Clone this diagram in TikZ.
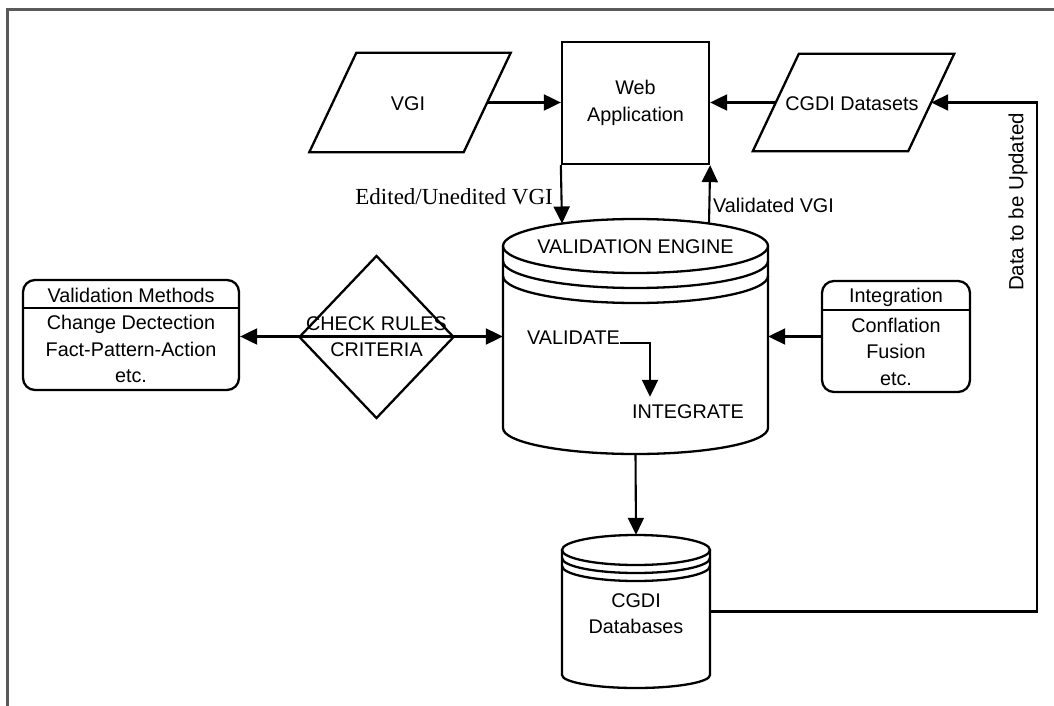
\documentclass[tikz,border=0pt]{standalone}
\usepackage{fontspec}
\setmainfont{Liberation Sans}
\newfontfamily\seriffont{Liberation Serif}
\usetikzlibrary{arrows.meta,shapes.geometric,calc}
\definecolor{framegray}{RGB}{90,90,90}
\begin{document}
\begin{tikzpicture}[x=1pt,y=-1pt,
  every node/.style={font=\fontsize{19.8}{26.5}\selectfont, inner sep=0pt},
  >={Triangle[length=17pt,width=16pt]},
  outline/.style={draw=black, line width=2.3pt, fill=white, line join=miter},
  conn/.style={line width=2.1pt},
  thin rule/.style={line width=1.9pt},
  panel/.style={outline, rounded corners=12pt},
  label/.style={align=center}]

\useasboundingbox (0,0) rectangle (1054,706);

% page frame (top and left edges)
\draw[line width=3pt, framegray] (1054,10) -- (7.5,10) -- (7.5,706);

% ---- input / output parallelograms and web application ----
\node[minimum width=154, minimum height=99] (vgi) at (410,102.5) {};
\draw[outline] ($(vgi.north east)+(23.5,0)$) -- ($(vgi.north west)+(23.5,0)$)
  -- ($(vgi.south west)+(-23.5,0)$) -- ($(vgi.south east)+(-23.5,0)$) -- cycle;
\node at (408,104) {VGI};

\node[minimum width=155, minimum height=97] (cgdi) at (853.5,102.5) {};
\draw[outline] ($(cgdi.north east)+(23,0)$) -- ($(cgdi.north west)+(23,0)$)
  -- ($(cgdi.south west)+(-23,0)$) -- ($(cgdi.south east)+(-23,0)$) -- cycle;
\node at (852,104) {CGDI Datasets};

\node[outline, minimum width=147, minimum height=122, label] (web) at (635.5,103)
  {Web\\Application};

% ---- validation engine (stacked-disk cylinder) ----
\node[minimum width=265, minimum height=235] (engine) at (635.5,336.5) {};
\draw[outline] (503,246) -- (503,428)
  arc[start angle=180, end angle=0, x radius=132.5, y radius=26]
  -- (768,246);
\draw[outline] (635.5,246) ellipse [x radius=132.5, y radius=27];
\draw[outline, fill=none] (503,261) arc[start angle=180, end angle=0, x radius=132.5, y radius=27];
\draw[outline, fill=none] (503,276) arc[start angle=180, end angle=0, x radius=132.5, y radius=27];
\node (engtitle) at (635.5,247) {VALIDATION ENGINE};
\node (val) at (573.5,338) {VALIDATE};
\node (integ-step) at (688,412) {INTEGRATE};
\coordinate (engIn) at (562,223.5);
\coordinate (engOut) at (709,223.5);

% ---- CGDI databases cylinder ----
\node[minimum width=148, minimum height=153] (db) at (636,611.5) {};
\draw[outline] (562,550) -- (562,675)
  arc[start angle=180, end angle=0, x radius=74, y radius=13]
  -- (710,550);
\draw[outline] (636,550) ellipse [x radius=74, y radius=15];
\draw[outline, fill=none] (562,558) arc[start angle=180, end angle=0, x radius=74, y radius=15];
\draw[outline, fill=none] (562,566) arc[start angle=180, end angle=0, x radius=74, y radius=15];
\node[label] at (636,613.5) {CGDI\\Databases};

% ---- rule check diamond ----
\node[diamond, outline, minimum width=155, minimum height=163] (chk) at (376.5,337) {};
\node[label] at (376.5,336.5) {CHECK RULES\\CRITERIA};

% ---- side panels ----
\node[panel, minimum width=216, minimum height=110] (vm) at (131,335) {};
\draw[thin rule] ($(vm.north west)+(0,29)$) -- ($(vm.north east)+(0,29)$);
\node at (131,295) {Validation Methods};
\node[label] at (131,349) {Change Dectection\\Fact-Pattern-Action\\etc.};

\node[panel, minimum width=148, minimum height=111] (integ) at (896,336.5) {};
\draw[thin rule] ($(integ.north west)+(0,30)$) -- ($(integ.north east)+(0,30)$);
\node at (896,297) {Integration};
\node[label] at (896,351.5) {Conflation\\Fusion\\etc.};

% ---- connectors ----
\draw[conn,->] (vgi.east) -- (web.west |- vgi.east);
\draw[conn,->] (cgdi.west) -- (web.east |- cgdi.west);
\draw[conn,->] (web.south west) -- (engIn);
\draw[conn,->] (engOut) -- (web.south east);
\draw[conn,<->] (vm.east |- engine.west) -- (engine.west);
\draw[conn,->] (integ.west) -- (engine.east);
\draw[conn,->] ([yshift=-5pt]val.east) -| ([xshift=-38pt,yshift=8pt]integ-step.north);
\draw[conn,->] (engine.south) -- (db.north);
\coordinate (rail) at (1037,400);
\draw[conn,->] (db.east) -| (rail) |- (cgdi.east);

% ---- connector labels ----
\node[anchor=east, font=\seriffont\fontsize{23}{26}\selectfont] at (553,197) {Edited/Unedited VGI};
\node[anchor=west] at (713,205) {Validated VGI};
\node[rotate=90, font=\fontsize{20.5}{24}\selectfont] at (1018,202) {Data to be Updated};
\end{tikzpicture}
\end{document}
